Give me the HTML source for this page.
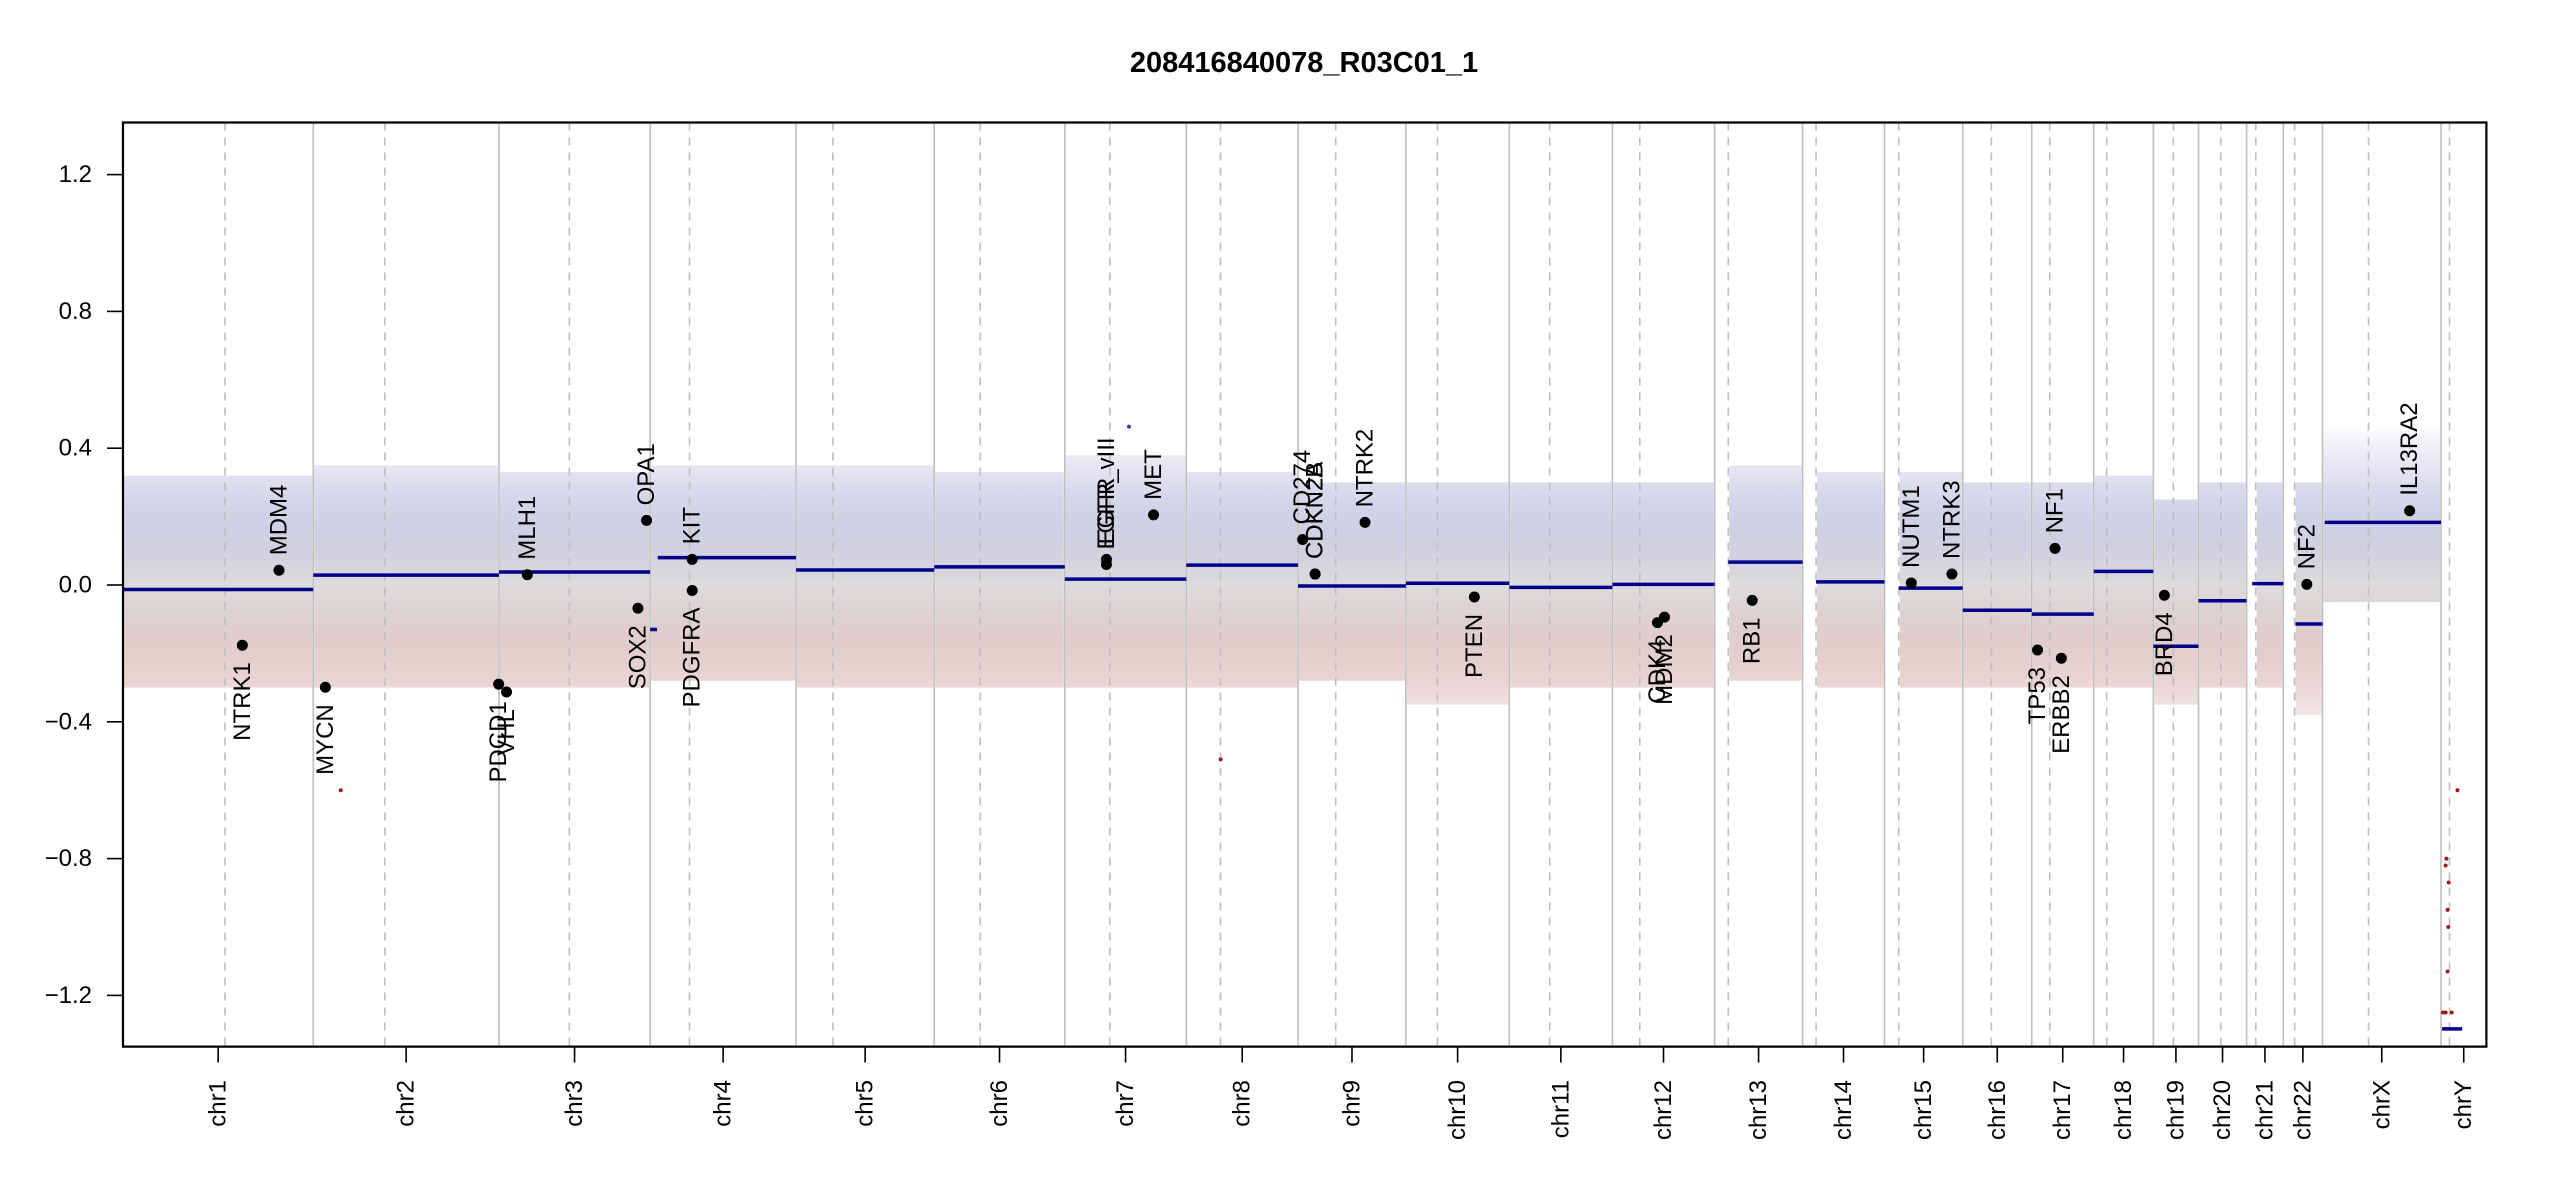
<!DOCTYPE html>
<html><head><meta charset="utf-8"><title>208416840078_R03C01_1</title>
<style>
html,body{margin:0;padding:0;background:#fff;}
svg{display:block;font-family:"Liberation Sans",Arial,sans-serif;}
</style></head>
<body>
<svg id="chart" width="2550" height="1200" viewBox="0 0 2550 1200" xmlns="http://www.w3.org/2000/svg">
<defs>
<linearGradient id="cloudGrad" gradientUnits="userSpaceOnUse" x1="0" x2="0" y1="431" y2="739">
<stop offset="0" stop-color="rgb(90,90,180)" stop-opacity="0.04"/>
<stop offset="0.17" stop-color="rgb(100,100,182)" stop-opacity="0.22"/>
<stop offset="0.33" stop-color="rgb(150,150,195)" stop-opacity="0.45"/>
<stop offset="0.5" stop-color="rgb(208,204,206)" stop-opacity="0.7"/>
<stop offset="0.67" stop-color="rgb(195,155,155)" stop-opacity="0.5"/>
<stop offset="0.83" stop-color="rgb(178,100,100)" stop-opacity="0.26"/>
<stop offset="1" stop-color="rgb(160,60,60)" stop-opacity="0.04"/>
</linearGradient>
</defs>
<text x="1304" y="72" text-anchor="middle" font-size="29" font-weight="bold">208416840078_R03C01_1</text>
<g id="clouds"></g>
<g id="vlines"></g>
<g id="segs"></g>
<g id="outliers"></g>
<g id="genes"></g>
<g id="axes"></g>
</svg>
<script>
const chromNames = ["chr1","chr2","chr3","chr4","chr5","chr6","chr7","chr8","chr9","chr10","chr11","chr12","chr13","chr14","chr15","chr16","chr17","chr18","chr19","chr20","chr21","chr22","chrX","chrY"];
const chromLenMb = [249.25,243.2,198.0,191.15,180.9,171.1,159.1,146.4,141.2,135.5,135.0,133.85,115.2,107.35,102.5,90.35,81.2,78.1,59.1,63.0,48.1,51.3,155.3,59.4];
const centromereMb = [133.6,93.7,92.2,51.6,48.2,60.3,59,44.7,49.3,41.3,52.9,35.9,17.9,17.7,18.6,37.5,23.6,17,26.2,29.3,12.1,14.8,60.3,11.1];
const cloudStartMb = [0,0,0,0,0,0,0,0,0,0,0,0,17.9,17.7,18.6,0,0,0,0,0,12.1,14.8,0,0];
const cloudTop = [0.32,0.35,0.33,0.35,0.35,0.33,0.38,0.33,0.3,0.3,0.3,0.3,0.35,0.33,0.33,0.3,0.3,0.32,0.25,0.3,0.3,0.3,0.45,0];
const cloudBottom = [-0.3,-0.3,-0.3,-0.28,-0.3,-0.3,-0.3,-0.3,-0.28,-0.35,-0.3,-0.3,-0.28,-0.3,-0.3,-0.3,-0.3,-0.3,-0.35,-0.3,-0.3,-0.38,-0.05,0];
const segChr = [0,1,2,3,3,4,5,6,7,8,9,10,11,12,13,14,15,16,17,18,19,20,21,22,23];
const segStartMb = [0,0,0,0,10,0,0,0,0,0,0,0,0,17.9,17.7,18.6,0,0,0,0,0,7.3,16,3,1.3];
const segEndMb = [249.25,243.2,198,9,191.15,180.9,171.1,159.1,146.4,141.2,135.5,135,133.85,115.2,107.35,102.5,90.35,81.2,78.1,59.1,63,48.1,51.3,155.3,27.6];
const segValue = [-0.013,0.029,0.038,-0.13,0.08,0.044,0.053,0.017,0.058,-0.003,0.005,-0.007,0.002,0.067,0.009,-0.009,-0.074,-0.085,0.04,-0.179,-0.046,0.004,-0.114,0.183,-1.298];
const geneNames = ["MDM4","NTRK1","MYCN","PDCD1","VHL","MLH1","OPA1","SOX2","KIT","PDGFRA","EGFR","EGFR_vIII","MET","CD274","CDKN2A","CDKN2B","NTRK2","PTEN","CDK4","MDM2","RB1","NUTM1","NTRK3","NF1","TP53","ERBB2","BRD4","NF2","IL13RA2"];
const geneChr = [0,0,1,1,2,2,2,2,3,3,6,6,6,8,8,8,8,9,11,11,12,14,14,16,16,16,18,21,22];
const geneMb = [204.3,156.3,15.8,242.8,9.9,37.1,193.3,182,55.1,55.1,54.5,54.5,116.2,6.0,22.3,22.3,87.7,89.7,59,68.2,49.3,35.1,88.3,30.5,7.6,38.8,14.4,30.8,114.2];
const geneValue = [0.043,-0.176,-0.299,-0.29,-0.313,0.03,0.189,-0.068,0.075,-0.016,0.075,0.06,0.205,0.133,0.032,0.032,0.183,-0.035,-0.11,-0.094,-0.045,0.006,0.032,0.107,-0.19,-0.214,-0.03,0.002,0.217];
const outlierChr = [7,6,1,23,23,23,23,23,23,23,23,23,23];
const outlierMb = [45,84,36,21.5,7,6,10,8.5,8.5,9.5,6,2.5,14];
const outlierValue = [-0.51,0.463,-0.6,-0.6,-0.8,-0.82,-0.87,-0.95,-1.13,-1.0,-1.25,-1.25,-1.25];
const yTicks = [-1.2,-0.8,-0.4,0.0,0.4,0.8,1.2];
const yTickLabels = ["\u22121.2","\u22120.8","\u22120.4","0.0","0.4","0.8","1.2"];

const NS = "http://www.w3.org/2000/svg";
const PL = 123, PR = 2486.4, PT = 122.5, PB = 1046.6;
const totalMb = chromLenMb.reduce((a,b)=>a+b,0);
const chromStart = [];
{let c=0; for (const l of chromLenMb){chromStart.push(c); c+=l;}}
function xPos(ci, mb){ return PL + (chromStart[ci]+mb)/totalMb*(PR-PL); }
function yPos(v){ return 585 - v*342; }
function mk(tag, attrs, parent){
  const e = document.createElementNS(NS, tag);
  for (const k in attrs) e.setAttribute(k, attrs[k]);
  parent.appendChild(e); return e;
}
const gC = document.getElementById('clouds'), gV = document.getElementById('vlines'),
      gS = document.getElementById('segs'), gO = document.getElementById('outliers'),
      gG = document.getElementById('genes'), gA = document.getElementById('axes');

chromNames.forEach((n,i)=>{
  if (cloudTop[i] === cloudBottom[i]) return;
  const x1 = xPos(i, cloudStartMb[i]), x2 = xPos(i, chromLenMb[i]);
  const r = mk('rect', {x:x1+1, y:yPos(cloudTop[i]), width:Math.max(0,x2-x1-2), height:yPos(cloudBottom[i])-yPos(cloudTop[i]), fill:'url(#cloudGrad)'}, gC);
  
  
});

chromNames.forEach((n,i)=>{
  if (i>0){
    const x = xPos(i,0);
    const l = mk('line', {x1:x, x2:x, y1:PT, y2:PB, stroke:'#bebebe', 'stroke-width':1.6}, gV);
    
    
  }
  const xc = xPos(i, centromereMb[i]);
  const d = mk('line', {x1:xc, x2:xc, y1:PT, y2:PB, stroke:'#bebebe', 'stroke-width':1.6, 'stroke-dasharray':'8,7'}, gV);
  
  
});

segValue.forEach((v,i)=>{
  const c = segChr[i];
  const l = mk('line', {x1:xPos(c,segStartMb[i]), x2:xPos(c,segEndMb[i]), y1:yPos(v), y2:yPos(v), stroke:'#00008b', 'stroke-width':3.5}, gS);
  
  
});

outlierValue.forEach((v,i)=>{
  const c = mk('circle', {cx:xPos(outlierChr[i],outlierMb[i]), cy:yPos(v), r:2, fill: v>0 ? '#3c3ca0' : '#a01818'}, gO);
  
  
});

geneNames.forEach((g,i)=>{
  const x = xPos(geneChr[i], geneMb[i]), y = yPos(geneValue[i]);
  const c = mk('circle', {cx:x, cy:y, r:5.5, fill:'#000'}, gG);
  
  
  const up = geneValue[i] >= 0;
  const ty = up ? y - 15 : y + 17;
  const t = mk('text', {x:0, y:0, transform:`translate(${x},${ty}) rotate(-90)`, 'text-anchor': up ? 'start' : 'end', 'dominant-baseline':'central', 'font-size':24}, gG);
  t.textContent = g;
  
  
});

const box = mk('path', {d:`M${PL},${PB} L${PL},${PT} L${PR},${PT} L${PR},${PB} Z`, fill:'none', stroke:'#000', 'stroke-width':2.2}, gA);


yTicks.forEach((v,i)=>{
  const y = yPos(v);
  const l = mk('line', {x1:PL-16, x2:PL, y1:y, y2:y, stroke:'#000', 'stroke-width':1.6}, gA);
  
  
  const t = mk('text', {x:92, y:y, 'text-anchor':'end', 'dominant-baseline':'central', 'font-size':24}, gA);
  t.textContent = yTickLabels[i];
  
  
});
chromNames.forEach((n,i)=>{
  const x = xPos(i, chromLenMb[i]/2);
  const l = mk('line', {x1:x, x2:x, y1:PB, y2:PB+16, stroke:'#000', 'stroke-width':1.6}, gA);
  
  
  const t = mk('text', {x:0, y:0, transform:`translate(${x},1080) rotate(-90)`, 'text-anchor':'end', 'dominant-baseline':'central', 'font-size':24}, gA);
  t.textContent = n;
  
  
});
</script>
</body></html>
